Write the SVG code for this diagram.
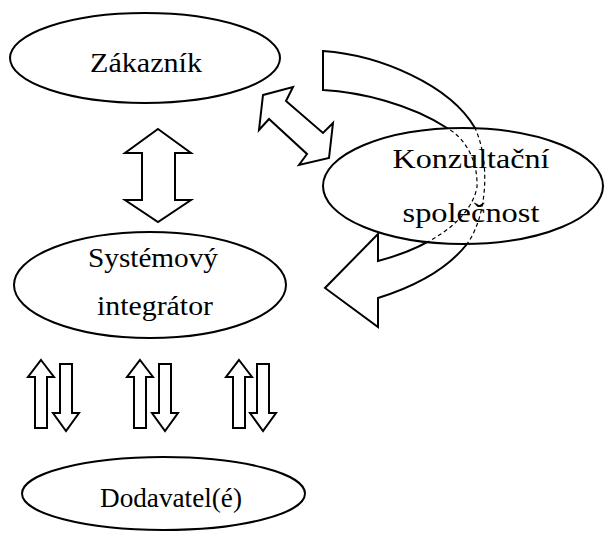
<svg xmlns="http://www.w3.org/2000/svg" width="604" height="546" viewBox="0 0 604 546">
<style>
  .node { fill: #ffffff; stroke: #000000; stroke-width: 2; }
  .arrow { fill: #ffffff; stroke: #000000; stroke-width: 2; stroke-linejoin: miter; }
  .hidden { fill: none; stroke: #000000; stroke-width: 1.2; stroke-dasharray: 4 3; }
  .label { font-family: "Liberation Serif", "Times New Roman", serif; font-size: 28px; fill: #000000; text-anchor: middle; }
</style>
<defs>
  <path id="upArrow" d="M0,0 L13,17 L6,17 L6,68 L-6,68 L-6,17 L-13,17 Z"/>
  <path id="downArrow" d="M-6,4 L6,4 L6,53 L13,53 L0,71 L-13,53 L-6,53 Z"/>
  <path id="curvedArrow" d="M323,51 C380,55 450,85 475,128 C490,160 488,215 467,244 C445,272 410,288 378,298 L378,327 L325,288 L378,234 L378,261 C420,250 470,225 477,187 C478,160 465,138 447,128 C410,104 360,92 323,90 Z"/>
  <clipPath id="konzClip">
    <ellipse cx="463" cy="186" rx="140" ry="58"/>
  </clipPath>
</defs>

<g id="connectors">
  <path id="zak-sys" class="arrow" d="M158,129 L191,153 L175,153 L175,200 L191,200 L158,222 L125,200 L142,200 L142,153 L125,153 Z"/>
  <path id="zak-konz" class="arrow" d="M263,95 L293,87 L286,101 L323,133 L333,123 L329,158 L299,165 L307,154 L269,119 L259,130 Z"/>
  <use class="arrow" href="#curvedArrow"/>
  <use class="arrow" href="#upArrow" transform="translate(41,360)"/>
  <use class="arrow" href="#downArrow" transform="translate(66,360)"/>
  <use class="arrow" href="#upArrow" transform="translate(140,360)"/>
  <use class="arrow" href="#downArrow" transform="translate(165,360)"/>
  <use class="arrow" href="#upArrow" transform="translate(239,360)"/>
  <use class="arrow" href="#downArrow" transform="translate(263,360)"/>
</g>

<g id="zakaznik">
  <ellipse class="node" cx="145" cy="58" rx="135" ry="45"/>
  <text class="label" x="146" y="72" textLength="112" lengthAdjust="spacingAndGlyphs">Zákazník</text>
</g>

<g id="konzultacni-spolecnost">
  <ellipse class="node" cx="463" cy="186" rx="140" ry="58"/>
  <use class="hidden" href="#curvedArrow" clip-path="url(#konzClip)"/>
  <text class="label" x="471" y="168" textLength="157" lengthAdjust="spacingAndGlyphs">Konzultační</text>
  <text class="label" x="471" y="222" textLength="137" lengthAdjust="spacingAndGlyphs">společnost</text>
</g>

<g id="systemovy-integrator">
  <ellipse class="node" cx="150" cy="285" rx="136" ry="53"/>
  <text class="label" x="153" y="267" textLength="130" lengthAdjust="spacingAndGlyphs">Systémový</text>
  <text class="label" x="155" y="315" textLength="116" lengthAdjust="spacingAndGlyphs">integrátor</text>
</g>

<g id="dodavatele">
  <ellipse class="node" cx="163.5" cy="493.5" rx="141.5" ry="36.5"/>
  <text class="label" x="171" y="507" textLength="142" lengthAdjust="spacingAndGlyphs">Dodavatel(é)</text>
</g>
</svg>
